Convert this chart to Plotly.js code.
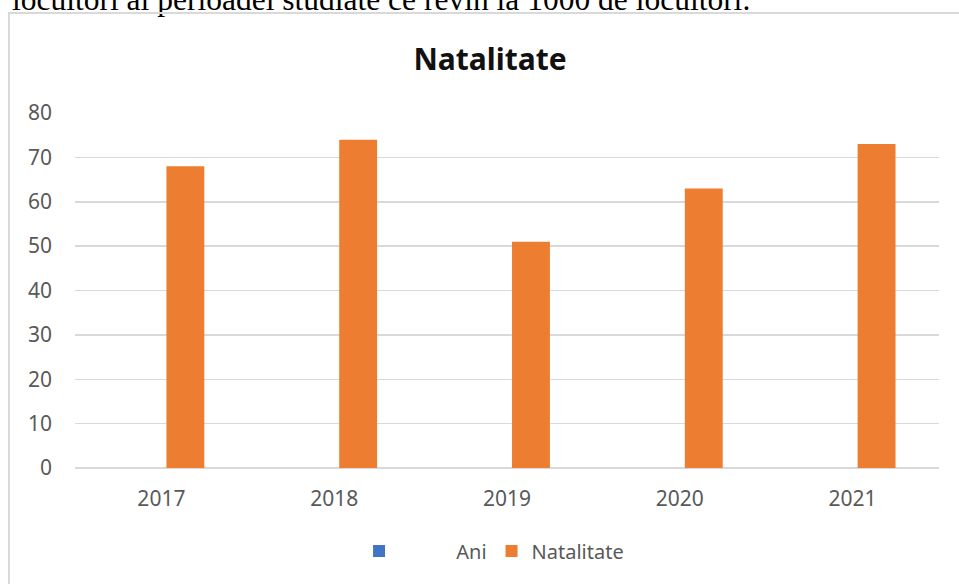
<!DOCTYPE html>
<html>
<head>
<meta charset="utf-8">
<script src="https://cdn.plot.ly/plotly-3.0.1.min.js"></script>
<style>
  html, body { margin: 0; padding: 0; width: 959px; height: 584px; overflow: hidden; background: #fff; }
  #caption { position: absolute; left: 12px; top: -16px; font-family: "Liberation Serif", "Times New Roman", serif; font-size: 31.5px; line-height: 32px; color: #000; white-space: nowrap; }
  #frame { position: absolute; left: 8px; top: 12px; width: 1000px; height: 700px; border: 2px solid #d9d9d9; box-sizing: border-box; }
  #chart { position: absolute; left: 10px; top: 14px; width: 960px; height: 580px; }
</style>
</head>
<body>
<div id="caption">locuitori ai perioadei studiate ce revin la 1000 de locuitori.</div>
<div id="frame"></div>
<div id="chart"></div>
<script>
const years = ["2017", "2018", "2019", "2020", "2021"];
const aniValues = [null, null, null, null, null];
const natalitateValues = [68, 74, 51, 63, 73];
const yTicks = [0, 10, 20, 30, 40, 50, 60, 70, 80];
const titleText = "Natalitate";
const seriesAni = "Ani";
const seriesNat = "Natalitate";

const tickFont = { family: "Noto Sans, Open Sans, sans-serif", size: 21, color: "#595959" };

const data = [
  { type: "bar", name: "\u00a0".repeat(11) + seriesAni, x: years, y: aniValues, marker: { color: "#4472C4" }, showlegend: true },
  { type: "bar", name: seriesNat, x: years, y: natalitateValues, marker: { color: "#ED7D31" } }
];

const layout = {
  width: 960, height: 580,
  margin: { l: 64.5, r: 30.5, t: 99, b: 126 },
  paper_bgcolor: "rgba(0,0,0,0)",
  plot_bgcolor: "rgba(0,0,0,0)",
  title: { text: "<b>" + titleText + "</b>", font: { family: "Noto Sans, Open Sans, sans-serif", size: 30, color: "#111111" }, x: 0.5, xanchor: "center", y: 0.922, yanchor: "middle", yref: "container" },
  barmode: "group",
  bargap: 0.445,
  bargroupgap: 0.21,
  xaxis: { type: "category", tickfont: tickFont, showgrid: false, zeroline: false, showline: false, ticks: "", ticklabelstandoff: 16 },
  yaxis: { range: [0, 80], tickvals: yTicks, tickfont: tickFont, showgrid: true, gridcolor: "#d9d9d9", gridwidth: 1.5, zeroline: true, zerolinecolor: "#d9d9d9", zerolinewidth: 1.5, showline: false, ticks: "", ticklabelstandoff: 22 },
  legend: { orientation: "h", x: 0.485, xanchor: "center", y: -0.234, yanchor: "middle", font: { family: "Noto Sans, Open Sans, sans-serif", size: 20, color: "#595959" } },
  showlegend: true
};

Plotly.newPlot("chart", data, layout, { displayModeBar: false, staticPlot: true });
</script>
</body>
</html>
